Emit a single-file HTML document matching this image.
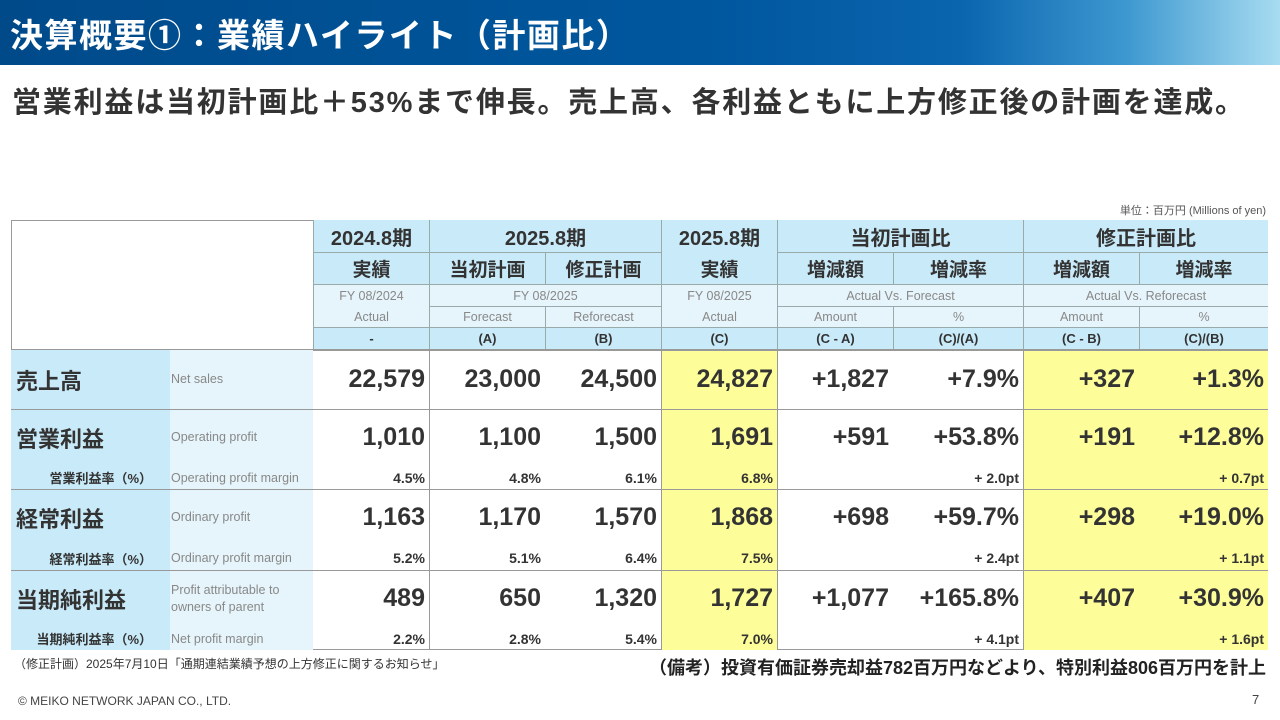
<!DOCTYPE html>
<html><head><meta charset="utf-8">
<style>
*{margin:0;padding:0;box-sizing:border-box}
body{width:1280px;height:720px;position:relative;background:#fff;font-family:"Liberation Sans","Noto Sans CJK JP",sans-serif;color:#333;overflow:hidden}
.a{position:absolute}
.c{display:flex;align-items:center;justify-content:center;white-space:nowrap}
.r{display:flex;align-items:center;justify-content:flex-end;white-space:nowrap}
.l{display:flex;align-items:center;justify-content:flex-start;white-space:nowrap}
</style></head><body>
<div class="a" style="left:0;top:0;width:1280px;height:65px;background:linear-gradient(90deg,#004a8a 0%,#00579e 55%,#0a64ae 75%,#3d98d0 88%,#a8dcf1 100%)"></div>
<div class="a l" style="left:10px;top:12px;height:42px;font-size:33px;letter-spacing:1.5px;font-weight:bold;color:#fff">決算概要①：業績ハイライト（計画比）</div>
<div class="a l" style="left:12px;top:82px;height:36px;font-size:29px;letter-spacing:1.8px;font-weight:bold;color:#333">営業利益は当初計画比＋53%まで伸長。売上高、各利益ともに上方修正後の計画を達成。</div>
<div class="a r" style="left:900px;top:203px;width:366px;height:14px;font-size:11px;color:#555">単位：百万円 (Millions of yen)</div>
<div id="t"></div>
<div class="a l" style="left:14px;top:655px;height:16px;font-size:12px;color:#333">（修正計画）2025年7月10日「通期連結業績予想の上方修正に関するお知らせ」</div>
<div class="a r" style="left:600px;top:655px;width:666px;height:24px;font-size:18px;font-weight:bold;color:#222">（備考）投資有価証券売却益782百万円などより、特別利益806百万円を計上</div>
<div class="a l" style="left:18px;top:693px;height:16px;font-size:12px;color:#444">© MEIKO NETWORK JAPAN CO., LTD.</div>
<div class="a l" style="left:1252px;top:691px;height:16px;font-size:13px;color:#444">7</div>
<script>
const colX=[313,429,545,661,777,893,1023,1139,1268];
const rowJP=["売上高","営業利益","経常利益","当期純利益"];
const rowEN=["Net sales","Operating profit","Ordinary profit","Profit attributable to<br>owners of parent"];
const subJP=[null,"営業利益率（%）","経常利益率（%）","当期純利益率（%）"];
const subEN=[null,"Operating profit margin","Ordinary profit margin","Net profit margin"];
const mainVals=[
["22,579","23,000","24,500","24,827","+1,827","+7.9%","+327","+1.3%"],
["1,010","1,100","1,500","1,691","+591","+53.8%","+191","+12.8%"],
["1,163","1,170","1,570","1,868","+698","+59.7%","+298","+19.0%"],
["489","650","1,320","1,727","+1,077","+165.8%","+407","+30.9%"]];
const subVals=[null,
["4.5%","4.8%","6.1%","6.8%","","+ 2.0pt","","+ 0.7pt"],
["5.2%","5.1%","6.4%","7.5%","","+ 2.4pt","","+ 1.1pt"],
["2.2%","2.8%","5.4%","7.0%","","+ 4.1pt","","+ 1.6pt"]];
const rowTop=[350,409,489,570], rowBot=[409,489,570,650];
const T=document.getElementById('t');
function box(x,y,w,h,cls,style,html,name){
  const d=document.createElement('div');
  d.className='a '+cls;
  d.style.cssText=`left:${x}px;top:${y}px;width:${w}px;height:${h}px;`+style;
  d.innerHTML=html;
  
  
  T.appendChild(d);return d;
}
const HB='#c9eaf8',HL='#e6f5fb',BD='1px solid #9aa';
box(11,220,1257,430,'','border:1px solid #999','', 'table-frame');
box(313,220,955,129,'','background:'+HB,'','header-bg');
box(313,284,955,43,'','background:'+HL,'','header-en-bg');
box(11,349,1257,2,'','background:#999','','header-divider');
const h1=[[313,429,"2024.8期"],[429,661,"2025.8期"],[661,777,"2025.8期"],[777,1023,"当初計画比"],[1023,1268,"修正計画比"]];
h1.forEach((h,i)=>box(h[0],220,h[1]-h[0],32,'c','font-size:20px;font-weight:bold;border-left:'+BD,h[2],'header-period'));
const h2=["実績","当初計画","修正計画","","増減額","増減率","増減額","増減率"];
h2.forEach((t,i)=>{ if(i===3)return; box(colX[i],252,colX[i+1]-colX[i],32,'c','font-size:19px;font-weight:bold;border-top:'+BD+';border-left:'+BD,t,'header-label');});
box(661,252,116,32,'c','font-size:19px;font-weight:bold;border-left:'+BD,"実績",'header-label');
const h3=[[313,429,"FY 08/2024"],[429,661,"FY 08/2025"],[661,777,"FY 08/2025"],[777,1023,"Actual Vs. Forecast"],[1023,1268,"Actual Vs. Reforecast"]];
h3.forEach(h=>box(h[0],284,h[1]-h[0],22,'c','font-size:12.5px;color:#888;border-top:'+BD+';border-left:'+BD,h[2],'header-en'));
const h4=["Actual","Forecast","Reforecast","Actual","Amount","%","Amount","%"];
h4.forEach((t,i)=>box(colX[i],306,colX[i+1]-colX[i],21,'c','font-size:12.5px;color:#888;border-left:'+BD+((i===0||i===3)?'':';border-top:'+BD),t,'header-en-sub'));
const h5=["-","(A)","(B)","(C)","(C - A)","(C)/(A)","(C - B)","(C)/(B)"];
h5.forEach((t,i)=>box(colX[i],327,colX[i+1]-colX[i],22,'c','font-size:13px;font-weight:bold;border-top:'+BD+';border-left:'+BD,t,'header-code'));
box(11,350,159,300,'','background:'+HB,'','label-jp-bg');
box(170,350,143,300,'','background:'+HL,'','label-en-bg');
box(661,351,116,299,'','background:#fdfd9a','','actual-highlight');
box(1023,351,245,299,'','background:#fdfd9a','','reforecast-highlight');
[429,661,777,1023].forEach(x=>box(x,351,1,299,'','background:#999','','col-divider'));
for(let r=0;r<4;r++){
  const top=rowTop[r], hasSub=subVals[r]!==null;
  const mh=hasSub?57:59;
  if(r>0) box(11,top,1257,1,'','background:#999','','row-divider');
  box(16,top,150,mh,'l','font-size:22px;font-weight:bold;color:#333',rowJP[r],'row-label');
  box(171,top,142,mh,'l','font-size:12.5px;color:#888;line-height:17px',rowEN[r],'row-label-en');
  mainVals[r].forEach((v,i)=>box(colX[i],top,colX[i+1]-colX[i]-4,mh,'r','font-size:25px;font-weight:bold;color:#333',v,'value-cell'));
  if(hasSub){
    box(16,top+mh,150,rowBot[r]-top-mh,'r','font-size:13px;font-weight:bold;color:#333;padding-right:14px',subJP[r],'margin-label');
    box(171,top+mh,142,rowBot[r]-top-mh,'l','font-size:12.5px;color:#888',subEN[r],'margin-label-en');
    subVals[r].forEach((v,i)=>{ if(!v)return; box(colX[i],top+mh,colX[i+1]-colX[i]-4,rowBot[r]-top-mh,'r','font-size:14px;font-weight:bold;color:#333',v,'margin-cell');});
  }
}
</script>
</body></html>
